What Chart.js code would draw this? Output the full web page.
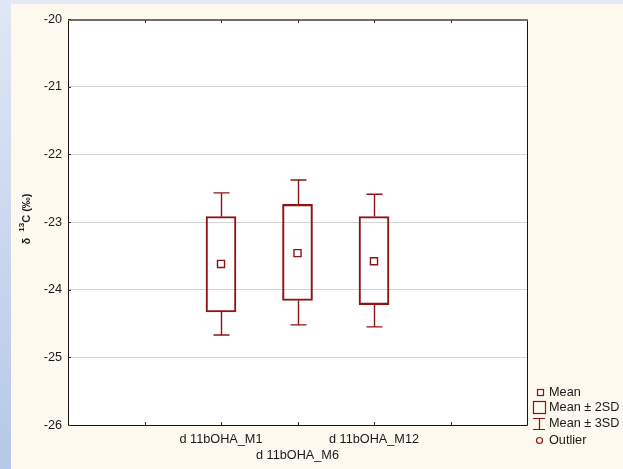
<!DOCTYPE html>
<html>
<head>
<meta charset="utf-8">
<script src="https://cdn.jsdelivr.net/npm/chart.js@4"></script>
<style>
  body { margin: 0; }
  #wrap { position: relative; width: 623px; height: 469px; background: #fef9ee; overflow: hidden; }
  #leftStrip { position: absolute; left: 0; top: 0; width: 11px; height: 469px; background: linear-gradient(#e0e7f5, #b6c7e7); }
  #topStrip { position: absolute; left: 0; top: 0; width: 623px; height: 4px; background: #e3e9f5; }
  canvas { position: absolute; left: 0; top: 0; }
</style>
</head>
<body>
<div id="wrap">
  <div id="topStrip"></div>
  <div id="leftStrip"></div>
  <canvas id="myChart" width="623" height="469"></canvas>
</div>
<script>
// categories and their slot on the x axis
var categories = ["d 11bOHA_M1", "d 11bOHA_M6", "d 11bOHA_M12"];
var positions = [2, 3, 4];
var tickPositions = [1, 2, 3, 4, 5];

// values
var means = [-23.62, -23.46, -23.58];
var sd2Low = [-24.33, -24.16, -24.22];
var sd2High = [-22.92, -22.74, -22.92];
var sd3Low = [-24.67, -24.52, -24.55];
var sd3High = [-22.57, -22.38, -22.59];

var yTicks = [-26, -25, -24, -23, -22, -21, -20];

var boxRed = "#8e1414";
var textColor = "#1a1a1a";
var fontFamily = "'Liberation Sans', Arial, sans-serif";

// frame, inner ticks, whiskers, axis title and legend
var decorations = {
  id: "decorations",
  beforeDraw: function (chart) {
    var a = chart.chartArea;
    var c = chart.ctx;
    c.save();
    c.fillStyle = "#ffffff";
    c.fillRect(a.left, a.top, a.right - a.left, a.bottom - a.top);
    c.restore();
  },
  afterDatasetsDraw: function (chart) {
    var c = chart.ctx;
    var a = chart.chartArea;
    var xs = chart.scales.x;
    var ys = chart.scales.y;

    // whiskers
    c.save();
    c.strokeStyle = boxRed;
    c.lineWidth = 1.4;
    positions.forEach(function (p, i) {
      var x = Math.round(xs.getPixelForValue(p)) + 0.5;
      var segs = [[sd2High[i], sd3High[i]], [sd2Low[i], sd3Low[i]]];
      segs.forEach(function (s) {
        var y1 = ys.getPixelForValue(s[0]);
        var y2 = ys.getPixelForValue(s[1]);
        c.beginPath();
        c.moveTo(x, y1);
        c.lineTo(x, y2);
        c.moveTo(x - 8, y2);
        c.lineTo(x + 8, y2);
        c.stroke();
      });
    });
    c.restore();

    // frame
    c.save();
    c.strokeStyle = "#111";
    c.lineWidth = 1;
    c.beginPath();
    c.moveTo(a.left + 0.5, a.top);
    c.lineTo(a.left + 0.5, a.bottom + 0.5);
    c.lineTo(a.right + 0.5, a.bottom + 0.5);
    c.lineTo(a.right + 0.5, a.top);
    c.stroke();
    c.strokeStyle = "#707070";
    c.lineWidth = 2;
    c.beginPath();
    c.moveTo(a.left, a.top + 1);
    c.lineTo(a.right + 1, a.top + 1);
    c.stroke();

    // small inside ticks
    c.strokeStyle = "#333";
    c.lineWidth = 1;
    c.beginPath();
    tickPositions.forEach(function (t) {
      var x = Math.round(xs.getPixelForValue(t)) + 0.5;
      c.moveTo(x, a.bottom);
      c.lineTo(x, a.bottom - 3);
      c.moveTo(x, a.top + 1);
      c.lineTo(x, a.top + 4);
    });
    yTicks.forEach(function (t) {
      var y = Math.round(ys.getPixelForValue(t)) + 0.5;
      c.moveTo(a.left, y);
      c.lineTo(a.left + 3, y);
    });
    c.stroke();
    c.restore();

    // y axis title with superscript
    c.save();
    c.translate(27, 219);
    c.rotate(-Math.PI / 2);
    c.fillStyle = textColor;
    c.textBaseline = "middle";
    var big = "bold 11px " + fontFamily;
    var small = "bold 8px " + fontFamily;
    var parts = [["δ  ", big, 0], ["13", small, -5], ["C (‰)", big, 0]];
    var total = 0;
    parts.forEach(function (p) { c.font = p[1]; total += c.measureText(p[0]).width; });
    var xx = -total / 2;
    parts.forEach(function (p) {
      c.font = p[1];
      c.textAlign = "left";
      c.fillText(p[0], xx, p[2]);
      xx += c.measureText(p[0]).width;
    });
    c.restore();

    // legend
    c.save();
    c.strokeStyle = boxRed;
    c.lineWidth = 1.2;
    c.strokeRect(537.5, 389.5, 6, 6);
    c.strokeRect(533.5, 401.5, 12, 12);
    c.beginPath();
    c.moveTo(533, 418.5); c.lineTo(545, 418.5);
    c.moveTo(539.5, 418.5); c.lineTo(539.5, 429.5);
    c.moveTo(533, 429.5); c.lineTo(545, 429.5);
    c.stroke();
    c.beginPath();
    c.arc(539.5, 440.5, 3, 0, Math.PI * 2);
    c.stroke();
    c.fillStyle = textColor;
    c.font = "12.7px " + fontFamily;
    c.textBaseline = "middle";
    c.textAlign = "left";
    c.fillText("Mean", 549, 392);
    c.fillText("Mean ± 2SD", 549, 407);
    c.fillText("Mean ± 3SD", 549, 423);
    c.fillText("Outlier", 549, 440);
    c.restore();
  }
};

var ctx = document.getElementById("myChart");

var myChart = new Chart(ctx, {
  type: "bar",
  data: {
    datasets: [
      {
        label: "Mean ± 2SD",
        data: positions.map(function (p, i) { return { x: p, y: [sd2Low[i], sd2High[i]] }; }),
        backgroundColor: "rgba(255,255,255,0)",
        borderColor: boxRed,
        borderWidth: 1.4,
        borderSkipped: false,
        barThickness: 30,
        order: 2
      },
      {
        type: "scatter",
        label: "Mean",
        data: positions.map(function (p, i) { return { x: p, y: means[i] }; }),
        pointStyle: "rect",
        pointRadius: 5,
        pointHoverRadius: 5,
        borderColor: boxRed,
        backgroundColor: "#ffffff",
        borderWidth: 1.4,
        order: 1
      }
    ]
  },
  options: {
    responsive: false,
    animation: false,
    devicePixelRatio: 1,
    layout: { padding: { top: 19, right: 96, left: 0, bottom: 0 } },
    plugins: {
      legend: { display: false },
      tooltip: { enabled: false }
    },
    scales: {
      x: {
        type: "linear",
        min: 0,
        max: 6,
        offset: false,
        afterBuildTicks: function (scale) {
          scale.ticks = positions.map(function (p) { return { value: p }; });
        },
        afterFit: function (scale) { scale.height = 44; },
        grid: { display: false, drawTicks: false, offset: false },
        border: { display: false },
        ticks: {
          autoSkip: false,
          maxRotation: 0,
          padding: 7,
          color: textColor,
          font: { size: 12.7, family: fontFamily, lineHeight: 1.25 },
          callback: function (value) {
            var i = positions.indexOf(value);
            if (i < 0) return "";
            return i % 2 === 1 ? ["", categories[i]] : categories[i];
          }
        }
      },
      y: {
        min: -26,
        max: -20,
        afterBuildTicks: function (scale) {
          scale.ticks = yTicks.map(function (v) { return { value: v }; });
        },
        afterFit: function (scale) { scale.width = 68; },
        grid: { color: "#d2d2d2", lineWidth: 1, drawTicks: false },
        border: { display: false },
        ticks: {
          padding: 6,
          color: textColor,
          font: { size: 12.7, family: fontFamily }
        }
      }
    }
  },
  plugins: [decorations]
});
</script>
</body>
</html>
